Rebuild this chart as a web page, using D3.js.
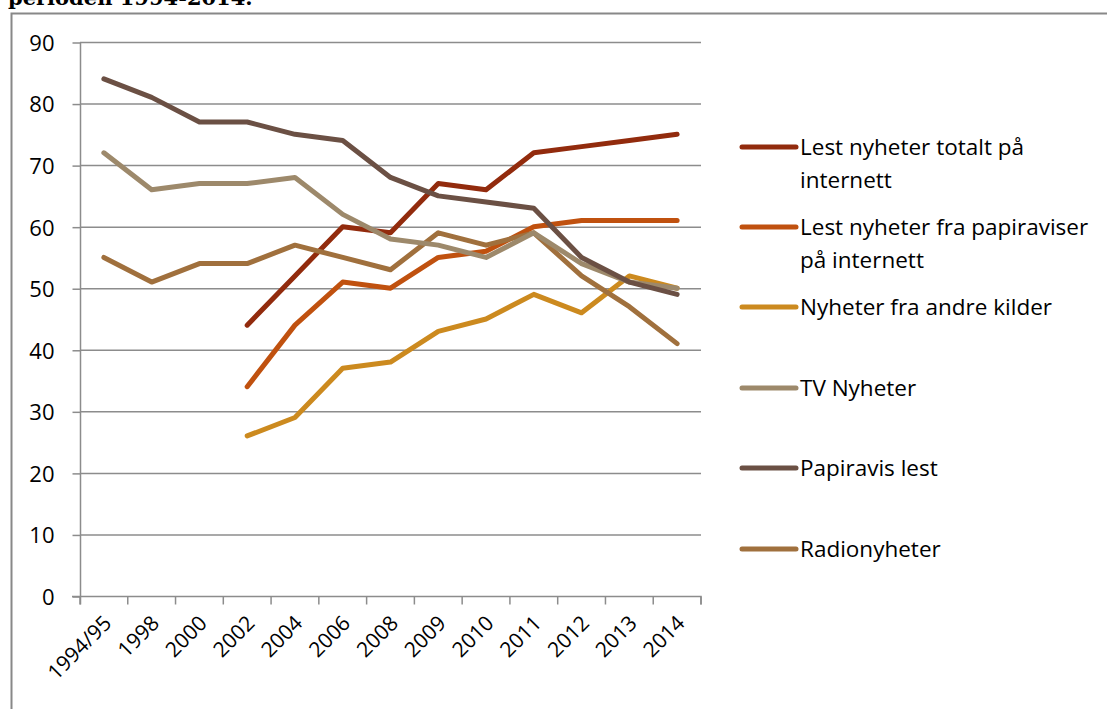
<!DOCTYPE html>
<html>
<head>
<meta charset="utf-8">
<script src="https://cdn.jsdelivr.net/npm/d3@7"></script>
<style>
body{margin:0;background:#fff;}
svg text{font-family:"Open Sans","Noto Sans",sans-serif;}
</style>
</head>
<body>
<div id="chart"></div>
<script>
// data
var years=["1994/95","1998","2000","2002","2004","2006","2008","2009","2010","2011","2012","2013","2014"];
var totaltInternett=[null,null,null,44,52,60,59,67,66,72,73,74,75];
var papirInternett=[null,null,null,34,44,51,50,55,56,60,61,61,61];
var andreKilder=[null,null,null,26,29,37,38,43,45,49,46,52,50];
var tvNyheter=[72,66,67,67,68,62,58,57,55,59,54,51,50];
var papiravisLest=[84,81,77,77,75,74,68,65,64,63,55,51,49];
var radioNyheter=[55,51,54,54,57,55,53,59,57,59,52,47,41];
var seriesNames=[["Lest nyheter totalt på","internett"],["Lest nyheter fra papiraviser","på internett"],["Nyheter fra andre kilder"],["TV Nyheter"],["Papiravis lest"],["Radionyheter"]];
var seriesColors=["#922b0d","#c0510f","#cc8a1f","#9d896b","#6b5044","#a0703d"];
var yTicks=[0,10,20,30,40,50,60,70,80,90];

var W=1107,H=709;
var series=[totaltInternett,papirInternett,andreKilder,tvNyheter,papiravisLest,radioNyheter];
// draw order: back to front as in the picture
var drawOrder=[2,1,0,5,3,4];

var svg=d3.select("#chart").append("svg").attr("width",W).attr("height",H);

// cut-off title above the frame
svg.append("text").attr("x",8).attr("y",5)
	.style("font-family","'DejaVu Serif',serif").style("font-weight","bold").style("font-size","21px")
	.text("perioden 1994-2014.");

// outer frame
svg.append("path").attr("d","M11.5,"+H+"V13.5H"+W)
	.attr("fill","none").attr("stroke","#888").attr("stroke-width",2);

var x0=80,x1=701,y0=596,y1=42;
var x=d3.scaleBand().domain(years).range([x0,x1]);
var y=d3.scaleLinear().domain([0,90]).range([y0,y1]);

// grid
svg.append("g").selectAll("line").data(yTicks.filter(function(d){return d>0;})).enter().append("line")
	.attr("x1",x0).attr("x2",x1).attr("y1",function(d){return y(d)+0.5;}).attr("y2",function(d){return y(d)+0.5;})
	.attr("stroke","#8c8c8c").attr("stroke-width",1.5);

// y axis
var yAxis=d3.axisLeft(y).tickValues(yTicks).tickSize(8).tickPadding(18);
var gy=svg.append("g").attr("transform","translate("+(x0+0.5)+",0.5)").call(yAxis);
gy.selectAll("line,path").attr("stroke","#8c8c8c").attr("stroke-width",1.5);
gy.select(".domain").attr("d","M0,"+y1+"V"+(y0+8));
gy.selectAll("text").style("font-size","22px").attr("fill","#000").attr("dy","0.36em");

// x axis
var xAxis=d3.axisBottom(x).tickSize(8).tickSizeOuter(8).tickFormat(function(d){return d;});
var gx=svg.append("g").attr("transform","translate(0,"+(y0+0.5)+")").call(xAxis);
gx.selectAll("line,path").attr("stroke","#8c8c8c").attr("stroke-width",1.5);
gx.select(".domain").attr("d","M"+(x0-8)+",0H"+x1+"V8");
gx.selectAll(".tick line").attr("x1",-x.bandwidth()/2).attr("x2",-x.bandwidth()/2);
gx.append("line").attr("x1",x1).attr("x2",x1).attr("y1",0).attr("y2",8).attr("stroke","#8c8c8c").attr("stroke-width",1.5);
gx.selectAll(".tick text").style("font-size","21px").attr("fill","#000")
	.attr("text-anchor","end").attr("dy",0).attr("y",0)
	.attr("transform","translate("+(x.bandwidth()/2-15)+",28) rotate(-45)");

// lines
var line=d3.line()
	.defined(function(d){return d!=null;})
	.x(function(d,i){return x(years[i])+x.bandwidth()/2;})
	.y(function(d){return y(d);});
svg.append("g").selectAll("path").data(drawOrder).enter().append("path")
	.attr("d",function(k){return line(series[k]);})
	.attr("fill","none").attr("stroke",function(k){return seriesColors[k];})
	.attr("stroke-width",5).attr("stroke-linecap","round").attr("stroke-linejoin","round");

// legend
var legY=[147,227,307,388,468,549];
var leg=svg.append("g").selectAll("g").data(seriesNames).enter().append("g")
	.attr("transform",function(d,i){return "translate(742,"+legY[i]+")";});
leg.append("line").attr("x1",0).attr("x2",54).attr("y1",0).attr("y2",0)
	.attr("stroke",function(d,i){return seriesColors[i];}).attr("stroke-width",5).attr("stroke-linecap","round");
leg.each(function(d){
	var t=d3.select(this).append("text").attr("x",58).attr("y",8).style("font-size","22.5px").attr("fill","#000");
	d.forEach(function(s,j){
		t.append("tspan").attr("x",58).attr("dy",j?33:0).text(s);
	});
});
</script>
</body>
</html>
